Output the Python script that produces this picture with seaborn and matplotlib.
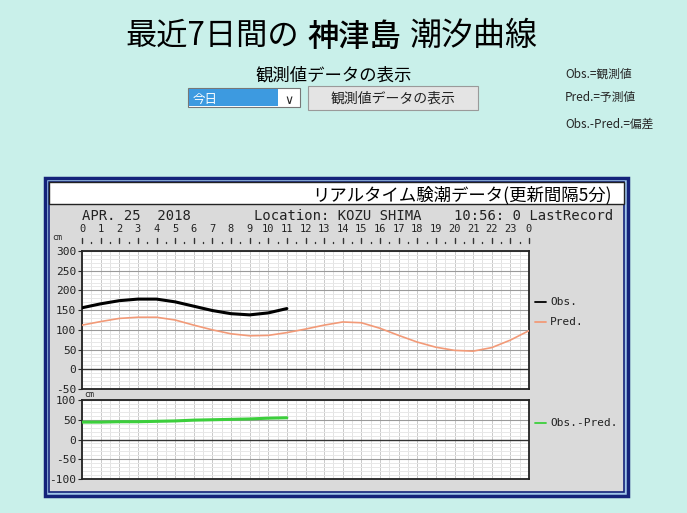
import matplotlib
matplotlib.use("Agg")
import matplotlib.pyplot as plt
import matplotlib.patches as mpatches
import matplotlib.transforms as mtransforms
import seaborn as sns
import pandas as pd

# readings taken from the chart (hour of day, cm)
obs_hours = [0, 1, 2, 3, 4, 5, 6, 7, 8, 9, 10, 11]
obs_cm = [156, 166, 174, 178, 178, 171, 160, 149, 141, 138, 143, 154]
pred_hours = list(range(25))
pred_cm = [112, 121, 129, 132, 132, 125, 112, 100, 90, 85, 86, 93, 102,
           112, 120, 118, 104, 86, 69, 56, 48, 46, 55, 74, 98]
diff_cm = [44, 44, 45, 45, 46, 47, 49, 50, 51, 52, 54, 55]
hour_labels = [str(h) for h in range(24)] + ["0"]
tide_ticks = [300, 250, 200, 150, 100, 50, 0, -50]
diff_ticks = [100, 50, 0, -50, -100]

W, H = 687, 513
sns.set_style("white")
plt.rcParams['font.family'] = ['Noto Sans CJK JP', 'DejaVu Sans']
MONO = ['DejaVu Sans Mono']

fig = plt.figure(figsize=(W / 100, H / 100), dpi=100)
fig.patch.set_facecolor("#c9f0ea")


def fx(x):
    return x / W


def fy(y):
    return 1 - y / H


def box(x0, y0, x1, y1, **kw):
    fig.patches.append(mpatches.Rectangle((fx(x0), fy(y1)), fx(x1) - fx(x0), fy(y0) - fy(y1),
                                          transform=fig.transFigure, **kw))


# page header
fig.text(fx(125), fy(45), "最近7日間の", fontsize=22.5, va="baseline", color="black")
fig.text(fx(307), fy(46), "神津島", fontsize=22.5, va="baseline", color="black", fontweight="medium")
fig.text(fx(410), fy(45), "潮汐曲線", fontsize=23, va="baseline", color="black")
fig.text(fx(334), fy(81), "観測値データの表示", fontsize=12.5, ha="center", va="baseline",
         color="black")

# select box and button
box(188, 88, 300, 107, facecolor="white", edgecolor="#777777", lw=0.8)
box(189, 89, 278, 106, facecolor="#3d9ae0", edgecolor="none")
fig.text(fx(193), fy(103), "今日", fontsize=9, color="white", va="baseline")
fig.text(fx(289), fy(104), "∨", fontsize=9, ha="center", va="baseline", family=['DejaVu Sans'])
box(308, 86, 478, 110, facecolor="#e4e4e4", edgecolor="#9a9a9a", lw=0.8)
fig.text(fx(393), fy(103), "観測値データの表示", fontsize=10, ha="center", va="baseline",
         color="#222222")

fig.text(fx(565), fy(78), "Obs.=観測値", fontsize=8.5, va="baseline")
fig.text(fx(565), fy(101), "Pred.=予測値", fontsize=8.5, va="baseline")
fig.text(fx(565), fy(128), "Obs.-Pred.=偏差", fontsize=8.5, va="baseline")

# chart panel frame
box(45, 178, 628, 496, facecolor="#9fc6e8", edgecolor="#14237a", lw=2.5)
box(49, 182, 624, 492, facecolor="#dadada", edgecolor="#14237a", lw=1.2)
box(49, 182, 624, 204, facecolor="white", edgecolor="#222222", lw=1.0)
fig.text(fx(612), fy(200), "リアルタイム験潮データ(更新間隔5分)", fontsize=12.5,
         ha="right", va="baseline", color="black")

fig.text(fx(82), fy(220), "APR. 25  2018", fontsize=10, family=MONO, va="baseline", color="#222222")
fig.text(fx(254), fy(220), "Location: KOZU SHIMA", fontsize=10, family=MONO, va="baseline",
         color="#222222")
fig.text(fx(613), fy(220), "10:56: 0 LastRecord", fontsize=10, family=MONO, ha="right",
         va="baseline", color="#222222")
fig.text(fx(52), fy(240), "cm", fontsize=6, family=MONO, va="baseline")

ax1 = fig.add_axes([fx(82), fy(389), fx(529) - fx(82), fy(251) - fy(389)])
ax2 = fig.add_axes([fx(82), fy(479), fx(529) - fx(82), fy(400) - fy(479)])
ax1.set_zorder(5)
ax2.set_zorder(5)


def style_axes(ax, lo, hi, ticks):
    ax.set_facecolor("white")
    ax.set_xlim(0, 24)
    ax.set_ylim(lo, hi)
    for h in range(48):
        ax.axvline(h / 2, color="#c9c9c9" if h % 2 == 0 else "#e3e3e3", lw=0.7, zorder=0)
    for v in range(lo, hi, 10):
        if v % 50 != 0:
            ax.axhline(v, color="#e8e8e8", lw=0.7, zorder=0)
    for v in ticks:
        ax.axhline(v, color="#333333" if v == 0 else "#9a9a9a", lw=1.0 if v == 0 else 0.8, zorder=1)
    ax.set_yticks(ticks)
    ax.set_yticklabels([str(t) for t in ticks], family=MONO, fontsize=8, color="#222222")
    ax.set_xticks([])
    ax.tick_params(axis="y", length=3, pad=1, width=0.8, left=True)
    ax.set_xlabel("")
    ax.set_ylabel("")
    for s in ax.spines.values():
        s.set_color("#222222")
        s.set_linewidth(1.3)


df_obs = pd.DataFrame({"hour": obs_hours, "cm": obs_cm})
df_pred = pd.DataFrame({"hour": pred_hours, "cm": pred_cm})
df_diff = pd.DataFrame({"hour": obs_hours, "cm": diff_cm})

sns.lineplot(data=df_pred, x="hour", y="cm", ax=ax1, color="#f29a78", lw=1.2, zorder=3)
sns.lineplot(data=df_obs, x="hour", y="cm", ax=ax1, color="black", lw=2.2, zorder=4)
sns.lineplot(data=df_diff, x="hour", y="cm", ax=ax2, color="#3ccf3c", lw=2.2, zorder=4)
style_axes(ax1, -50, 300, tide_ticks)
style_axes(ax2, -100, 100, diff_ticks)

# hour scale above the upper chart
trans = mtransforms.blended_transform_factory(ax1.transData, fig.transFigure)
for h, lab in enumerate(hour_labels):
    fig.text(h, fy(232), lab, transform=trans, fontsize=7.5, family=MONO, ha="center",
             va="baseline", color="#222222")
    fig.lines.append(plt.Line2D([h, h], [fy(243), fy(238)], transform=trans,
                                color="#333333", lw=1.0))
    if h < 24:
        fig.lines.append(plt.Line2D([h + 0.5, h + 0.5], [fy(243), fy(241.5)], transform=trans,
                                    color="#333333", lw=1.0))

fig.text(fx(84), fy(397), "cm", fontsize=6, family=MONO, va="baseline", zorder=6)

# legends
for y, col, lab in [(305, "black", "Obs."), (325, "#f29a78", "Pred."), (426, "#3ccf3c", "Obs.-Pred.")]:
    fig.lines.append(plt.Line2D([fx(535), fx(546)], [fy(y - 3), fy(y - 3)], color=col, lw=1.3,
                                transform=fig.transFigure))
    fig.text(fx(550), fy(y), lab, fontsize=8, family=MONO, va="baseline", color="#222222")

fig.savefig("out.png", dpi=100)
